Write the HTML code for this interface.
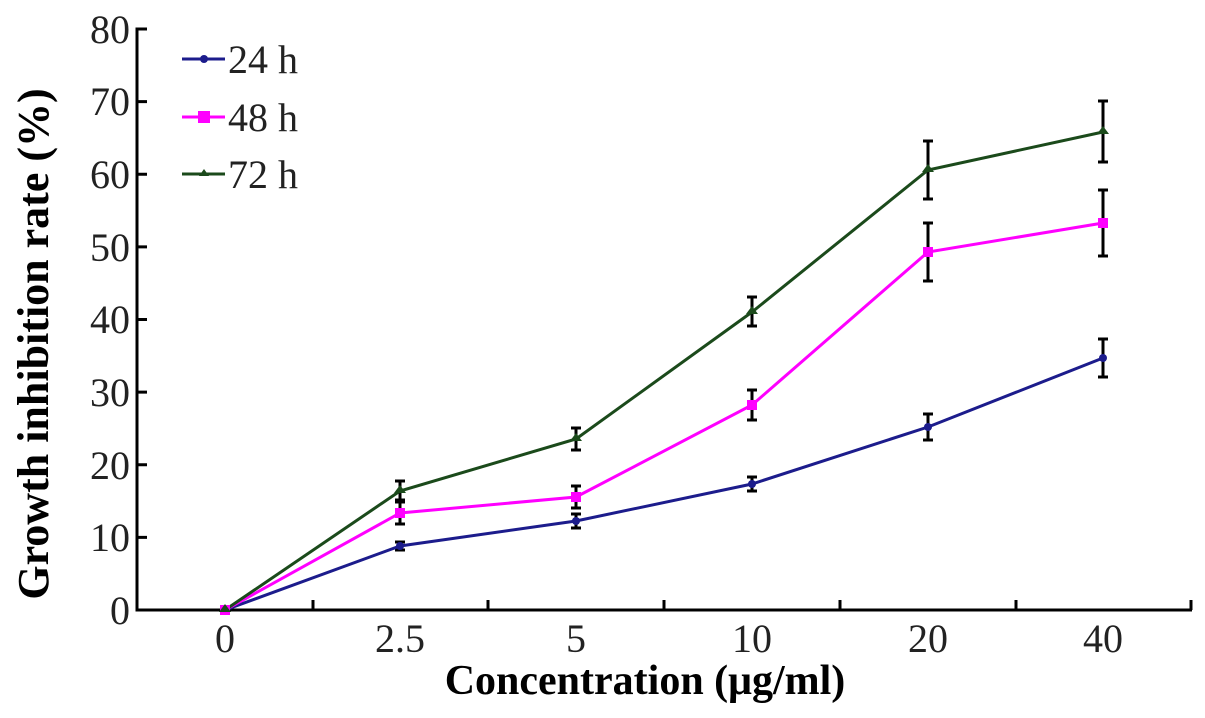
<!DOCTYPE html><html><head><style>body{margin:0;background:#fff}svg{display:block}</style></head><body>
<svg width="1205" height="718" font-family="Liberation Serif, serif">
<g stroke="#000" stroke-width="3" fill="none">
<path d="M147,29 H137 V610 H1192"/>
<path d="M137,101.6h10M137,174.2h10M137,246.9h10M137,319.5h10M137,392.1h10M137,464.8h10M137,537.4h10"/>
<path d="M313,610v-10M488,610v-10M664,610v-10M840,610v-10M1016,610v-10M1191,610v-10"/>
</g>
<g font-size="40" text-anchor="end" fill="#222">
<text x="130" y="43">80</text><text x="130" y="115">70</text><text x="130" y="188">60</text><text x="130" y="261">50</text><text x="130" y="333">40</text><text x="130" y="406">30</text><text x="130" y="479">20</text><text x="130" y="551">10</text><text x="130" y="624">0</text>
</g>
<g font-size="40" text-anchor="middle" fill="#222">
<text x="225" y="652">0</text><text x="400" y="652">2.5</text><text x="576" y="652">5</text><text x="752" y="652">10</text><text x="928" y="652">20</text><text x="1103" y="652">40</text>
</g>
<text x="645" y="694" font-size="42" font-weight="bold" text-anchor="middle">Concentration (μg/ml)</text>
<text transform="translate(48,344) rotate(-90)" font-size="44" font-weight="bold" text-anchor="middle">Growth inhibition rate (%)</text>
<g stroke="#000" stroke-width="3">
<path d="M400,550v-8M395,550h10M395,542h10M576,528v-14M571,528h10M571,514h10M752,491v-14M747,491h10M747,477h10M928,440v-26M923,440h10M923,414h10M1103,377v-38M1098,377h10M1098,339h10"/>
<path d="M400,524v-22M395,524h10M395,502h10M576,508v-22M571,508h10M571,486h10M752,420v-30M747,420h10M747,390h10M928,281v-58M923,281h10M923,223h10M1103,256v-66M1098,256h10M1098,190h10"/>
<path d="M400,500v-19M395,500h10M395,481h10M576,450v-22M571,450h10M571,428h10M752,326v-29M747,326h10M747,297h10M928,199v-58M923,199h10M923,141h10M1103,162v-61M1098,162h10M1098,101h10"/>
</g>
<polyline points="225,610 400,546 576,521 752,484 928,427 1103,358" fill="none" stroke="#1c1c8c" stroke-width="3"/>
<polyline points="225,610 400,513 576,497 752,405 928,252 1103,223" fill="none" stroke="#ff00ff" stroke-width="3"/>
<polyline points="225,610 400,491 576,439 752,312 928,170 1103,132" fill="none" stroke="#1b4a1b" stroke-width="3"/>
<g fill="#1c1c8c"><circle cx="400" cy="546" r="4"/><circle cx="576" cy="521" r="4"/><circle cx="752" cy="484" r="4"/><circle cx="928" cy="427" r="4"/><circle cx="1103" cy="358" r="4"/></g>
<g fill="#ff00ff"><rect x="220" y="605" width="10" height="10"/><rect x="395" y="508" width="10" height="10"/><rect x="571" y="492" width="10" height="10"/><rect x="747" y="400" width="10" height="10"/><rect x="923" y="247" width="10" height="10"/><rect x="1098" y="218" width="10" height="10"/></g>
<g fill="#1b4a1b"><path d="M225,604l6,8h-12z"/><path d="M400,485l6,8h-12z"/><path d="M576,433l6,8h-12z"/><path d="M752,306l6,8h-12z"/><path d="M928,164l6,8h-12z"/><path d="M1103,126l6,8h-12z"/></g>
<g stroke-width="3">
<line x1="182" y1="59" x2="225" y2="59" stroke="#1c1c8c"/><circle cx="204" cy="59" r="4" fill="#1c1c8c"/>
<line x1="182" y1="117" x2="225" y2="117" stroke="#ff00ff"/><rect x="198" y="111" width="12" height="12" fill="#ff00ff"/>
<line x1="182" y1="174" x2="225" y2="174" stroke="#1b4a1b"/><path d="M204,169l5,7h-10z" fill="#1b4a1b"/>
</g>
<g font-size="40" fill="#222"><text x="228" y="73">24 h</text><text x="228" y="131">48 h</text><text x="228" y="188">72 h</text></g>
</svg></body></html>
